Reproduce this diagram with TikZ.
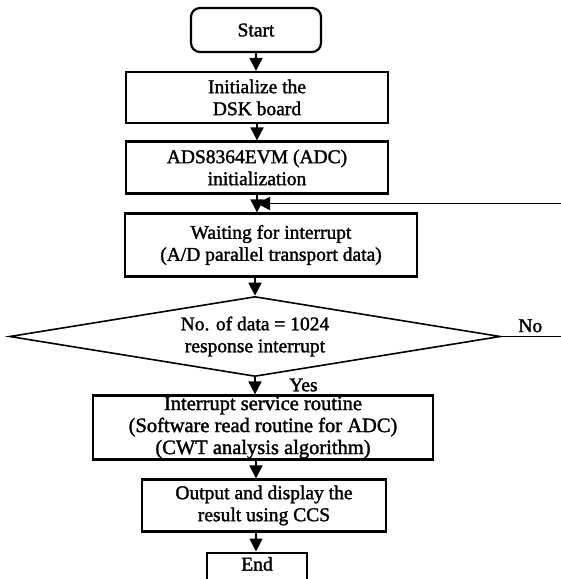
\documentclass[tikz,border=0pt]{standalone}
\usepackage{fontspec}
\setmainfont{Liberation Serif}[FakeBold=1.6]
\usetikzlibrary{shapes.geometric, arrows.meta}
\tikzstyle{startstop} = [rectangle, rounded corners=9pt, minimum width=130pt, minimum height=44pt, text centered, draw=black, line width=2.2pt]
\tikzstyle{process} = [rectangle, minimum width=262pt, minimum height=51pt, inner sep=0pt, align=center, draw=black, line width=2.2pt]
\tikzstyle{decision} = [diamond, aspect=6.1, minimum width=491pt, minimum height=80pt, inner sep=0pt, align=center, draw=black, line width=1.6pt]
\tikzstyle{arrow} = [line width=1.8pt, -{Triangle[length=13pt,width=13pt]}]

\begin{document}
\begin{tikzpicture}[node distance=70pt, font=\fontsize{19.5pt}{22pt}\selectfont]
\clip (0,0) rectangle (561pt,-579pt);

\node (start) [startstop] at (256pt,-30pt) {Start};
\node (pro1) [process, below of=start, xshift=1pt, yshift=2.5pt] {Initialize the\\DSK board};
\node (pro2) [process, below of=pro1, minimum height=52pt] {ADS8364EVM (ADC)\\initialization};
\node (pro3) [process, below of=pro2, xshift=14pt, yshift=-7.5pt, minimum width=292pt, minimum height=63pt] {Waiting for interrupt\\(A/D parallel transport data)};
\node (dec1) [decision, below of=pro3, xshift=-16pt, yshift=-21.5pt] {No. of data = 1024\\response interrupt};
\node (inv) [inner sep=0, minimum size=0, right of=dec1, xshift=241pt] {}; % off the page
\node (pro4) [process, below of=dec1, xshift=8pt, yshift=-21pt, minimum width=340pt, minimum height=64pt, font=\fontsize{20.5pt}{22pt}\selectfont] {Interrupt service routine\\(Software read routine for ADC)\\(CWT analysis algorithm)};
\node (pro5) [process, below of=pro4, xshift=1pt, yshift=-8pt, minimum width=244pt, minimum height=52pt] {Output and display the\\result using CCS};
\node (stop) [process, below of=pro5, anchor=north, xshift=-7pt, yshift=24pt, minimum width=100pt, minimum height=0pt, text height=18pt, text depth=30pt] {End};

\path (pro2.south) -- (pro2.south |- pro3.north) coordinate[midway] (join);

\draw [arrow] (start.south) -- (start.south |- pro1.north);
\draw [arrow] (pro1) -- (pro2);
\draw [arrow] (pro2.south) -- (pro2.south |- pro3.north);
\draw [arrow] (dec1.north |- pro3.south) -- (dec1.north);
\draw [arrow] (dec1.south) -- node[right=30pt, pos=0.45] {Yes} (dec1.south |- pro4.north);
\draw [line width=1.8pt] (dec1) -- node[above, pos=0.45] {No} (inv);
\draw [arrow] (inv) |- (join);
\draw [arrow] (pro4.south -| start) -- (pro5.north -| start);
\draw [arrow] (pro5.south -| start) -- (stop.north -| start);

\end{tikzpicture}
\end{document}
